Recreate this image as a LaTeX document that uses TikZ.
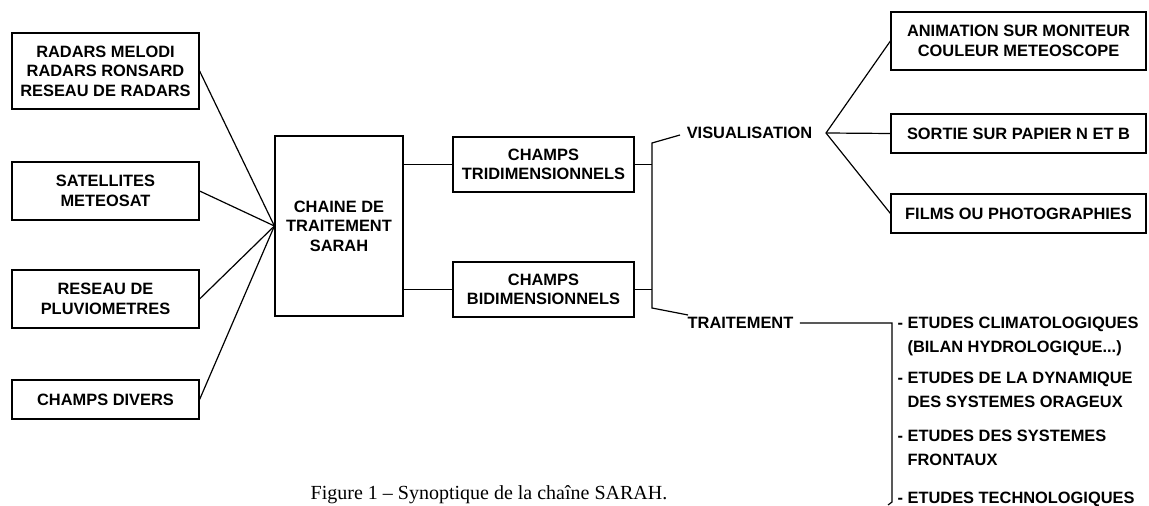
\documentclass[tikz,border=0pt]{standalone}
\usepackage{fontspec}
\setmainfont{Liberation Serif}
\setsansfont{Liberation Sans}
\begin{document}
\begin{tikzpicture}[x=0.5pt,y=-0.5pt,line width=0.6pt,
		box/.style={draw,align=center,inner sep=0pt,font=\sffamily\bfseries\fontsize{8.2}{9.8}\selectfont},
		lbl/.style={inner sep=0pt,font=\sffamily\bfseries\fontsize{8.2}{9.8}\selectfont},
		item/.style={inner sep=0pt,align=left,anchor=west,font=\sffamily\bfseries\fontsize{8.2}{12}\selectfont}]
				\useasboundingbox (0,0) rectangle (1149,506);
				\node [box,minimum width=93.5pt,minimum height=38pt] (radars) at (105.5,71) {RADARS MELODI\\RADARS RONSARD\\RESEAU DE RADARS};
				\node [box,minimum width=93.5pt,minimum height=29pt] (meteosat) at (105.5,191) {SATELLITES\\METEOSAT};
				\node [box,minimum width=93.5pt,minimum height=29pt] (pluvio) at (105.5,299) {RESEAU DE\\PLUVIOMETRES};
				\node [box,minimum width=93.5pt,minimum height=19.5pt] (divers) at (105.5,399.5) {CHAMPS DIVERS};
				\node [box,minimum width=64pt,minimum height=90pt] (sarah) at (339,226) {CHAINE DE\\TRAITEMENT\\SARAH};
				\node [box,minimum width=90.5pt,minimum height=27.5pt] (tri) at (543.5,164.5) {CHAMPS\\TRIDIMENSIONNELS};
				\node [box,minimum width=90.5pt,minimum height=27.5pt] (bi) at (543.5,289.5) {CHAMPS\\BIDIMENSIONNELS};

				\draw (radars.east) -- (sarah.west);
				\draw (meteosat.east) -- (sarah.west);
				\draw (pluvio.east) -- (sarah.west);
				\draw (divers.east) -- (sarah.west);
				\draw (sarah.east |- tri.west) -- (tri.west);
				\draw (sarah.east |- bi.west) -- (bi.west);

				\coordinate (jtop) at (652,143);
				\coordinate (jbot) at (652,308);
				\coordinate (visuin) at (680,135);
				\coordinate (traitin) at (688,315);
				\node [lbl] (visu) at (749.5,133) {VISUALISATION};
				\node [lbl] (trait) at (740.5,323) {TRAITEMENT};
				\draw (visuin) -- (jtop) -- (jbot) -- (traitin);
				\draw (tri.east) -- (tri.east -| jtop);
				\draw (bi.east) -- (bi.east -| jtop);

				\node [box,minimum width=127.5pt,minimum height=29pt] (anim) at (1018.5,41) {ANIMATION SUR MONITEUR\\COULEUR METEOSCOPE};
				\node [box,minimum width=127.5pt,minimum height=19.5pt] (sortie) at (1018.5,133.5) {SORTIE SUR PAPIER N ET B};
				\node [box,minimum width=127.5pt,minimum height=19.5pt] (films) at (1018.5,213.5) {FILMS OU PHOTOGRAPHIES};
				\coordinate (fan) at (826,133);
				\draw (anim.west) -- (fan) -- (films.west);
				\draw (fan) -- (sortie.west);

				\coordinate (bra) at (892,323);
				\coordinate (brb) at (892,502);
				\coordinate (brc) at (888,505);
				\draw ([xshift=3pt]trait.east) -- (bra) -- (brb) -- (brc);
				\node [item] (clim) at (897,336.5) {- ETUDES CLIMATOLOGIQUES\\\phantom{- }(BILAN HYDROLOGIQUE...)};
				\node [item] (dyn) at (897,390) {- ETUDES DE LA DYNAMIQUE\\\phantom{- }DES SYSTEMES ORAGEUX};
				\node [item] (front) at (897,447.5) {- ETUDES DES SYSTEMES\\\phantom{- }FRONTAUX};
				\node [item] (techno) at (897,499) {- ETUDES TECHNOLOGIQUES};

				\node [anchor=base,inner sep=0pt,font=\fontsize{10}{12}\selectfont] (caption) at (489,500) {Figure 1 -- Synoptique de la chaîne SARAH.};
			\end{tikzpicture}
\end{document}
